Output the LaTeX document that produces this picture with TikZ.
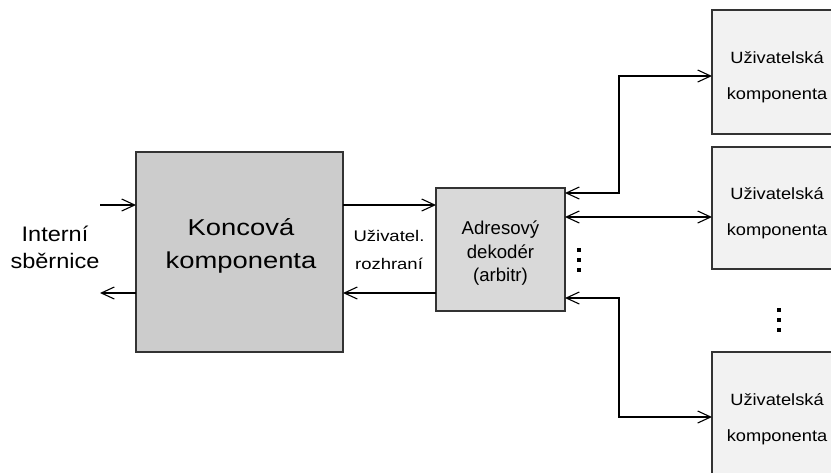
\documentclass[tikz,border=0pt]{standalone}
\usepackage{fontspec}
\setmainfont{Liberation Sans}
\usetikzlibrary{arrows.meta,calc}
\definecolor{gMain}{HTML}{CCCCCC}
\definecolor{gDec}{HTML}{D9D9D9}
\definecolor{gUser}{HTML}{F2F2F2}
\definecolor{edge}{HTML}{333333}
\newcommand\sxx[2]{\scalebox{#1}[1]{#2}}
\begin{document}
\begin{tikzpicture}[x=1pt,y=-1pt,
  box/.style={draw=edge, line width=1.2pt, inner sep=0pt, outer sep=0pt, anchor=north west},
  conn/.style={line width=1.2pt, black, arrows={-Straight Barb[length=13pt,width=12pt,line width=1.1pt]}},
  bconn/.style={line width=1.2pt, black, arrows={Straight Barb[length=13pt,width=12pt,line width=1.1pt]-Straight Barb[length=13pt,width=12pt,line width=1.1pt]}},
  lbl/.style={align=center, inner sep=0pt},
  dot/.style={fill=black}]
\useasboundingbox (0,0) rectangle (831,472);
\clip (0,0) rectangle (831,472);
% boxes
\node[box, fill=gMain, minimum width=207pt, minimum height=200pt] (kk) at (136,152) {};
\node[box, fill=gDec, minimum width=129pt, minimum height=123pt] (dec) at (436,188) {};
\node[box, fill=gUser, minimum width=130pt, minimum height=124pt] (u1) at (712,10) {};
\node[box, fill=gUser, minimum width=130pt, minimum height=122pt] (u2) at (712,147) {};
\node[box, fill=gUser, minimum width=130pt, minimum height=124pt] (u3) at (712,352) {};
% texts
\node[lbl, font=\fontsize{23}{33.3}\selectfont] (kkt) at (241,245.7) {\sxx{1.19}{Koncová}\\\sxx{1.19}{komponenta}};
\node[lbl, font=\fontsize{21}{27.3}\selectfont] (ib) at (55,247.7) {\sxx{1.12}{Interní}\\\sxx{1.12}{sběrnice}};
\node[lbl, font=\fontsize{15.4}{28.3}\selectfont] (ur) at (389,250.2) {\sxx{1.2}{Uživatel.}\\\sxx{1.2}{rozhraní}};
\node[lbl, font=\fontsize{18.6}{23.3}\selectfont] (dect) at (500.5,253.2) {Adresový\\dekodér\\(arbitr)};
\foreach \u in {u1,u2,u3}{
  \node[lbl, font=\fontsize{16.3}{36}\selectfont] (\u t) at ($(\u.west)+(65,4.8)$) {\sxx{1.12}{Uživatelská}\\\sxx{1.12}{komponenta}};
}
% helper coordinates
\coordinate (inL) at (100,205);
\coordinate (outL) at (100,293);
\coordinate (yA) at (0,205);
\coordinate (yB) at (0,293);
\coordinate (y1) at (0,193);
\coordinate (y2) at (0,217);
\coordinate (y3) at (0,298);
\coordinate (b1) at (619,76);
\coordinate (b3) at (619,417);
% connectors
\draw[conn] (inL) -- (inL -| kk.west);
\draw[conn] (outL -| kk.west) -- (outL);
\draw[conn] (kk.east |- yA) -- (dec.west |- yA);
\draw[conn] (dec.west |- yB) -- (kk.east |- yB);
\draw[bconn] (dec.east |- y1) -| (b1) -- (b1 -| u1.west);
\draw[bconn] (dec.east |- y2) -- (u2.west |- y2);
\draw[bconn] (dec.east |- y3) -| (b3) -- (b3 -| u3.west);
% ellipsis dots
\foreach \yy in {250,260,270} \fill[dot] (577.2,\yy-1.8) rectangle ++(3.6,3.6);
\foreach \yy in {310,320,330} \fill[dot] (777.2,\yy-1.8) rectangle ++(3.6,3.6);
\end{tikzpicture}
\end{document}
